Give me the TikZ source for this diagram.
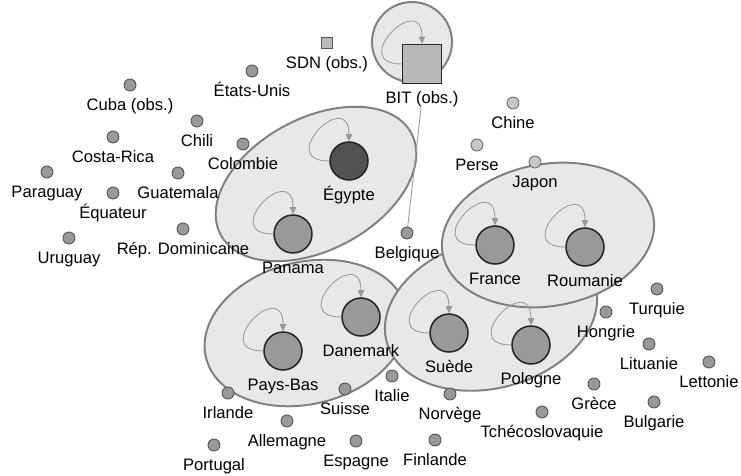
\documentclass[tikz,border=0pt]{standalone}
\usepackage{fontspec}
\setmainfont{Liberation Sans}
\usetikzlibrary{arrows.meta}

\begin{document}
\begin{tikzpicture}[x=0.025cm,y=-0.025cm]
  \tikzset{
    label distance=4.9pt,
    every label/.style={font=\fontsize{11.8}{14}\selectfont,inner sep=0pt,text height=8.6pt,text depth=2.4pt},
    pays/.style={circle,draw=black!65,fill=black!40,line width=0.7pt,inner sep=0pt,minimum size=8.5pt},
    paysclair/.style={pays,fill=black!22,draw=black!55},
    membre/.style={circle,draw=black!85,fill=black!40,line width=1.1pt,inner sep=0pt,minimum size=27pt},
    obs/.style={rectangle,draw=black!65,fill=black!28,line width=0.7pt,inner sep=0pt,minimum size=8.5pt},
    groupe/.style={draw=black!50,fill=black!9,line width=1.4pt},
    boucle/.style={draw=black!40,line width=0.6pt,-{Triangle[length=5pt,width=4.6pt]}},
    lien/.style={draw=black!40,line width=0.6pt}
  }

  \useasboundingbox (0,0) rectangle (741,475);

  \draw[groupe] (412,42) circle[radius=40];
  \draw[groupe,rotate around={28:(316,184)}] (316,184) ellipse[x radius=108,y radius=66];
  \draw[groupe,rotate around={14:(306,333)}] (306,333) ellipse[x radius=103,y radius=71];
  \draw[groupe,rotate around={15:(491,314)}] (491,314) ellipse[x radius=108,y radius=74];
  \draw[groupe,rotate around={10:(548,235)}] (548,235) ellipse[x radius=107,y radius=71];

  \node[obs,label=below:SDN (obs.)] (sdn) at (327,43) {};
  \node[obs,draw=black!85,line width=1.1pt,minimum size=27.7pt,label={[name=bitnom]below:BIT (obs.)}] (bit) at (422,64) {};

  \node[membre,fill=black!68,label=below:Égypte] (egypte) at (349,161) {};
  \node[membre,label=below:Panama] (panama) at (293,234) {};
  \node[membre,label=below:Pays-Bas] (paysbas) at (283,351) {};
  \node[membre,label=below:Danemark] (danemark) at (361,317) {};
  \node[membre,label=below:Suède] (suede) at (449,333) {};
  \node[membre,label=below:Pologne] (pologne) at (531,345) {};
  \node[membre,label=below:France] (france) at (495,245) {};
  \node[membre,label=below:Roumanie] (roumanie) at (585,247) {};

  \node[pays,label=below:États-Unis] (etatsunis) at (252,71) {};
  \node[pays,label=below:Cuba (obs.)] (cuba) at (130,85) {};
  \node[pays,label=below:Chili] (chili) at (197,121) {};
  \node[pays,label=below:Colombie] (colombie) at (243,144) {};
  \node[pays,label=below:Costa-Rica] (costarica) at (113,137) {};
  \node[pays,label=below:Guatemala] (guatemala) at (178,173) {};
  \node[pays,label=below:Paraguay] (paraguay) at (47,172) {};
  \node[pays,label=below:Équateur] (equateur) at (113,193) {};
  \node[pays,label=below:Rép. Dominicaine] (repdom) at (183,229) {};
  \node[pays,label=below:Uruguay] (uruguay) at (69,238) {};
  \node[paysclair,label=below:Chine] (chine) at (513,103) {};
  \node[paysclair,label=below:Perse] (perse) at (477,145) {};
  \node[paysclair,label=below:Japon] (japon) at (535,162) {};
  \node[pays,label=below:Belgique] (belgique) at (407,233) {};
  \node[pays,label=below:Irlande] (irlande) at (228,393) {};
  \node[pays,label=below:Allemagne] (allemagne) at (287,421) {};
  \node[pays,label=below:Portugal] (portugal) at (214,445) {};
  \node[pays,label=below:Suisse] (suisse) at (345,389) {};
  \node[pays,label=below:Espagne] (espagne) at (356,441) {};
  \node[pays,label=below:Italie] (italie) at (392,376) {};
  \node[pays,label=below:Norvège] (norvege) at (450,394) {};
  \node[pays,label=below:Finlande] (finlande) at (435,440) {};
  \node[pays,label=below:Tchécoslovaquie] (tchecoslovaquie) at (542,412) {};
  \node[pays,label=below:Grèce] (grece) at (594,384) {};
  \node[pays,label=below:Hongrie] (hongrie) at (606,312) {};
  \node[pays,label=below:Turquie] (turquie) at (657,289) {};
  \node[pays,label=below:Lituanie] (lituanie) at (649,344) {};
  \node[pays,label=below:Lettonie] (lettonie) at (709,362) {};
  \node[pays,label=below:Bulgarie] (bulgarie) at (654,402) {};

  \foreach \n in {bit,egypte,panama,paysbas,danemark,suede,pologne,france,roumanie}
    \draw[boucle] (\n.west) .. controls +(-55,0) and +(0,-55) .. (\n.north);

  \draw[lien] (bitnom) -- (belgique);
\end{tikzpicture}
\end{document}
